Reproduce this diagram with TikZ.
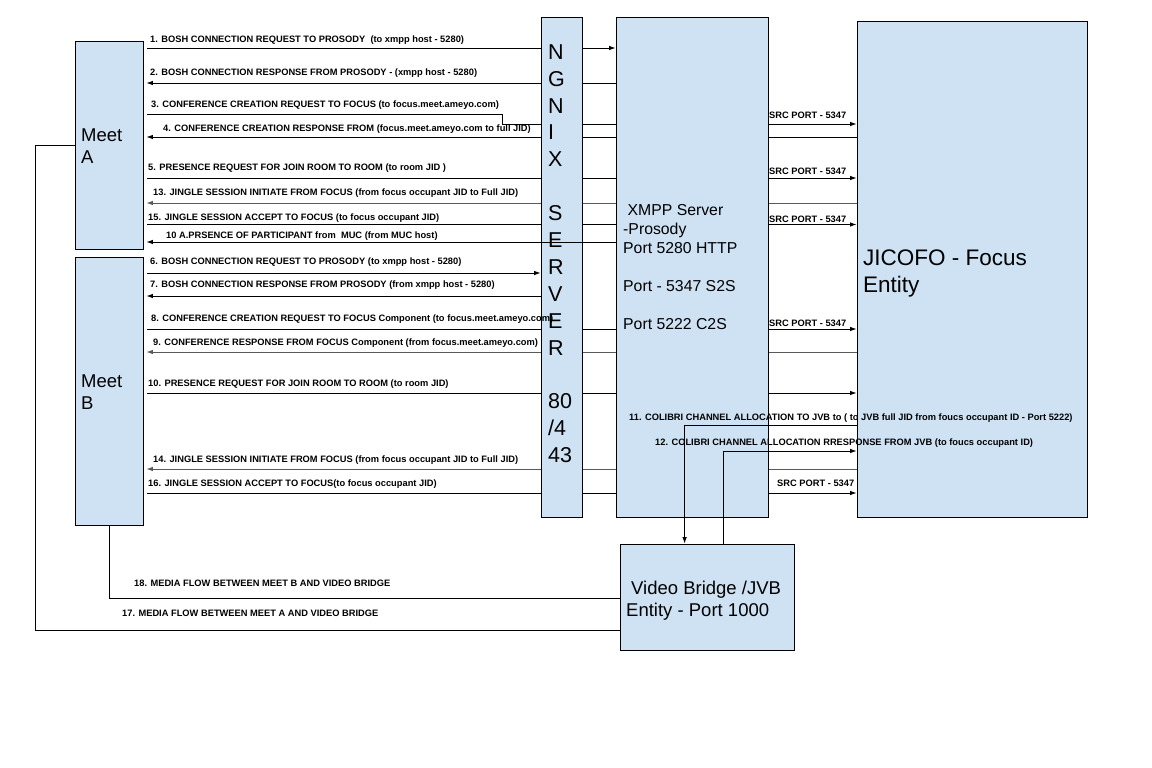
\documentclass[tikz,border=0pt]{standalone}
\usepackage{fontspec}
\setmainfont{Liberation Sans}
\usetikzlibrary{arrows.meta}
\definecolor{boxblue}{HTML}{CFE2F3}
\definecolor{linegray}{HTML}{595959}
\pgfdeclarelayer{back}
\pgfsetlayers{back,main}
\tikzset{
  box/.style={draw, fill=boxblue, line width=0.8pt, inner sep=0pt},
  msg/.style={line width=0.9pt, -{Latex[length=6.5pt,width=4.5pt]}},
  plain/.style={line width=0.9pt},
  req/.style={msg, shorten <=4pt},
  resp/.style={msg, shorten >=3pt},
  lbl/.style={font=\fontsize{9.3}{11}\selectfont\bfseries, anchor=base west, inner sep=0pt},
  bigtext/.style={align=left, anchor=north west, inner sep=0pt},
}
\begin{document}
\begin{tikzpicture}[x=1pt,y=-1pt]
\useasboundingbox (0,0) rectangle (1152,768);
% boxes
\node[box, minimum width=68pt, minimum height=208pt] (ma) at (109,145) {};
\node[box, minimum width=68pt, minimum height=268pt] (mb) at (109,391) {};
\node[box, minimum width=41pt, minimum height=500pt] (ng) at (561.5,267) {};
\node[box, minimum width=152pt, minimum height=500pt] (xm) at (692,267) {};
\node[box, minimum width=230pt, minimum height=496pt] (jc) at (972,269) {};
\node[box, minimum width=174pt, minimum height=106pt] (vb) at (707,597) {};
% box texts
\node[bigtext, font=\fontsize{18.5}{22}\selectfont] (mat) at (81,128.5) {Meet\\A};
\node[bigtext, font=\fontsize{18.5}{22}\selectfont] (mbt) at (81,374.5) {Meet\\B};
\node[bigtext, font=\fontsize{21.5}{26.9}\selectfont] (ngt) at (548,44.3)
  {N\\G\\N\\I\\X\\\mbox{}\\S\\E\\R\\V\\E\\R\\\mbox{}\\80\\/4\\43};
\node[bigtext, font=\fontsize{15.8}{19}\selectfont] (xmt) at (623,204.3)
  {\hspace{4.4pt}XMPP Server\\-Prosody\\Port 5280 HTTP\\\mbox{}\\Port - 5347 S2S\\\mbox{}\\Port 5222 C2S};
\node[bigtext, font=\fontsize{22.5}{27}\selectfont] (jct) at (863,250) {JICOFO - Focus\\Entity};
\node[bigtext, font=\fontsize{18.5}{22}\selectfont] (vbt) at (626,580.4)
  {\hspace{5pt}Video Bridge /JVB\\Entity - Port 1000};
% messages behind the servers
\begin{pgfonlayer}{back}
\draw[req] (ma.east |- 0,48) -- (xm.west |- 0,48);
\draw[resp] (xm.west |- 0,83) -- (ma.east |- 0,83);
\draw[req] (ma.east |- 0,114) -| (502,124) -- (jc.west |- 0,124);
\draw[resp] (jc.west |- 0,137) -- (ma.east |- 0,137);
\draw[req] (ma.east |- 0,178) -- (jc.west |- 0,178);
\draw[resp, linegray] (jc.west |- 0,203) -- (ma.east |- 0,203);
\draw[req] (ma.east |- 0,224.5) -- (jc.west |- 0,224.5);
\draw[req] (mb.east |- 0,273) -- (ng.west |- 0,273);
\draw[resp] (ng.west |- 0,296) -- (mb.east |- 0,296);
\draw[req] (mb.east |- 0,329) -- (jc.west |- 0,329);
\draw[resp, linegray] (jc.west |- 0,352) -- (mb.east |- 0,352);
\draw[req] (mb.east |- 0,393) -- (jc.west |- 0,393);
\draw[resp, linegray] (jc.west |- 0,469) -- (mb.east |- 0,469);
\draw[req] (mb.east |- 0,493) -- (jc.west |- 0,493);
\end{pgfonlayer}
% messages on top
\draw[resp] (xm.west |- 0,242) -- (ma.east |- 0,242);
\draw[msg] (jc.west |- 0,425) -| ([xshift=65pt]vb.north west);
\draw[msg] ([xshift=104pt]vb.north west) |- (jc.west |- 0,451);
% media flow
\draw[plain] (ma.west |- 0,145) -- ++(-39,0) |- (vb.west |- 0,630);
\draw[plain] (mb.south) |- (vb.west |- 0,598);
% labels
\node[lbl] (l1) at (150,42.5) {1. BOSH CONNECTION REQUEST TO PROSODY\ \ (to xmpp host - 5280)};
\node[lbl] (l2) at (150,75.5) {2. BOSH CONNECTION RESPONSE FROM PROSODY - (xmpp host - 5280)};
\node[lbl] (l3) at (151,107.5) {3. CONFERENCE CREATION REQUEST TO FOCUS (to focus.meet.ameyo.com)};
\node[lbl] (l4) at (163,131.5) {4. CONFERENCE CREATION RESPONSE FROM (focus.meet.ameyo.com to full JID)};
\node[lbl] (l5) at (148,170.5) {5. PRESENCE REQUEST FOR JOIN ROOM TO ROOM (to room JID )};
\node[lbl] (l13) at (153,195.5) {13. JINGLE SESSION INITIATE FROM FOCUS (from focus occupant JID to Full JID)};
\node[lbl] (l15) at (148,220.5) {15. JINGLE SESSION ACCEPT TO FOCUS (to focus occupant JID)};
\node[lbl] (l10a) at (166,238.5) {10 A.PRSENCE OF PARTICIPANT from\ \ MUC (from MUC host)};
\node[lbl] (l6) at (150,264.5) {6. BOSH CONNECTION REQUEST TO PROSODY (to xmpp host - 5280)};
\node[lbl] (l7) at (150,287.5) {7. BOSH CONNECTION RESPONSE FROM PROSODY (from xmpp host - 5280)};
\node[lbl] (l8) at (151,321.5) {8. CONFERENCE CREATION REQUEST TO FOCUS Component (to focus.meet.ameyo.com)};
\node[lbl] (l9) at (153,345.5) {9. CONFERENCE RESPONSE FROM FOCUS Component (from focus.meet.ameyo.com)};
\node[lbl] (l10) at (148,386) {10. PRESENCE REQUEST FOR JOIN ROOM TO ROOM (to room JID)};
\node[lbl] (l14) at (153,462.5) {14. JINGLE SESSION INITIATE FROM FOCUS (from focus occupant JID to Full JID)};
\node[lbl] (l16) at (148,486.5) {16. JINGLE SESSION ACCEPT TO FOCUS(to focus occupant JID)};
\node[lbl] (s1) at (769,118.5) {SRC PORT - 5347};
\node[lbl] (s2) at (769,174.5) {SRC PORT - 5347};
\node[lbl] (s3) at (769,222) {SRC PORT - 5347};
\node[lbl] (s4) at (769,326.5) {SRC PORT - 5347};
\node[lbl] (s5) at (777,486) {SRC PORT - 5347};
\node[lbl] (l11) at (629,420.5) {11. COLIBRI CHANNEL ALLOCATION TO JVB to ( to JVB full JID from foucs occupant ID - Port 5222)};
\node[lbl] (l12) at (655,445.5) {12. COLIBRI CHANNEL ALLOCATION RRESPONSE FROM JVB (to foucs occupant ID)};
\node[lbl] (l18) at (134,586.5) {18. MEDIA FLOW BETWEEN MEET B AND VIDEO BRIDGE};
\node[lbl] (l17) at (122,616.5) {17. MEDIA FLOW BETWEEN MEET A AND VIDEO BRIDGE};
\end{tikzpicture}
\end{document}
